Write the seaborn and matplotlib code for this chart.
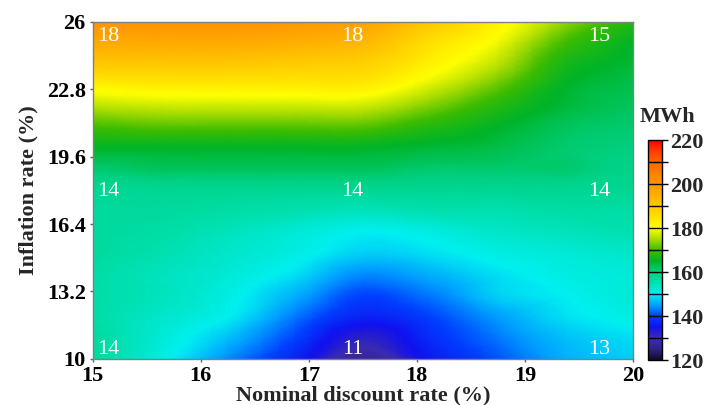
import numpy as np
import matplotlib
matplotlib.use("Agg")
import matplotlib.pyplot as plt
import matplotlib.tri as mtri
from matplotlib.colors import LinearSegmentedColormap, Normalize
import seaborn as sns

# ---- data ----
discount_rate = [15.0, 15.625, 16.25, 16.875, 17.5, 18.125, 18.75, 19.375, 20.0]   # x (%)
inflation_rate = [10, 11, 12, 13, 14, 15, 16, 17, 18, 19, 20, 21, 22, 23, 24, 25, 26]  # y (%)
row_10 = [157, 151, 144, 137, 127, 136, 141, 146, 148]
row_11 = [157, 152, 147, 140, 132, 138, 143, 147, 149]
row_12 = [156, 153, 150, 143, 137, 140, 145, 149, 151]
row_13 = [156, 154, 151, 146, 140, 143, 148, 150, 152]
row_14 = [156, 154, 152, 149, 144, 146, 149, 151, 152]
row_15 = [157, 155, 153, 151, 148, 149, 151, 152, 153]
row_16 = [157, 156, 154, 152, 150, 151, 153, 154, 155]
row_17 = [157, 157, 156, 155, 154, 155, 155, 156, 156]
row_18 = [158, 158, 158, 158, 158, 158, 158, 158, 158]
row_19 = [161, 162, 162, 162, 162, 161, 161, 161, 159]
row_20 = [165, 165, 165, 165, 165, 164, 163, 161, 160]
row_21 = [170, 171, 171, 171, 171, 168, 165, 162, 161]
row_22 = [176, 177, 177, 177, 177, 173, 168, 164, 162]
row_23 = [182, 183, 183, 183, 183, 178, 172, 165, 163]
row_24 = [190, 190, 190, 189, 188, 182, 176, 167, 164]
row_25 = [196, 196, 196, 195, 193, 185, 179, 170, 165]
row_26 = [201, 201, 201, 200, 198, 190, 182, 174, 168]
energy_mwh = [row_10, row_11, row_12, row_13, row_14, row_15, row_16, row_17, row_18,
              row_19, row_20, row_21, row_22, row_23, row_24, row_25, row_26]

label_x = [15, 17.5, 20, 15, 17.5, 20, 15, 17.5, 20]
label_y = [26, 26, 26, 18, 18, 18, 10, 10, 10]
label_txt = ["18", "18", "15", "14", "14", "14", "14", "11", "13"]
xticks = [15, 16, 17, 18, 19, 20]
yticks = [10, 13.2, 16.4, 19.6, 22.8, 26]
ytick_labels = ["10", "13.2", "16.4", "19.6", "22.8", "26"]
cbar_ticks = [120, 140, 160, 180, 200, 220]

sns.set_theme(style="white")
plt.rcParams["font.family"] = ["Liberation Serif", "DejaVu Serif"]

cmap_stops = [
    (120, "#0d0d26"), (125, "#35208a"), (130, "#3b2cb0"), (135, "#1010f0"),
    (140, "#0040ff"), (145, "#00a0ff"), (150, "#00f0f0"), (155, "#00e0b0"),
    (160, "#00d080"), (165, "#00b428"), (170, "#3cbc00"), (175, "#a8dc00"),
    (180, "#ffff00"), (185, "#ffe000"), (190, "#ffc800"), (195, "#ffb000"),
    (200, "#ff9800"), (205, "#ff8000"), (210, "#ff6400"), (215, "#ff3c00"),
    (220, "#ff0000"),
]
cmap = LinearSegmentedColormap.from_list(
    "origin_rainbow", [((v - 120) / 100.0, c) for v, c in cmap_stops], N=512)
norm = Normalize(120, 220)

fig = plt.figure(figsize=(7.08, 4.05), dpi=100)
ax = fig.add_axes([0.131, 0.114, 0.763, 0.832])

# smooth surface through the grid (cubic triangulated interpolation)
X, Y = np.meshgrid(discount_rate, inflation_rate)
Z = np.array(energy_mwh, dtype=float)
xn = (X.ravel() - 15) / 5.0
yn = (Y.ravel() - 10) / 16.0
tri = mtri.Triangulation(xn, yn)
interp = mtri.CubicTriInterpolator(tri, Z.ravel(), kind="geom")
refiner = mtri.UniformTriRefiner(tri)
tri_f, z_f = refiner.refine_field(Z.ravel(), triinterpolator=interp, subdiv=3)
tri_plot = mtri.Triangulation(tri_f.x * 5.0 + 15, tri_f.y * 16.0 + 10, tri_f.triangles)
ax.tripcolor(tri_plot, z_f, cmap=cmap, norm=norm, shading="gouraud", rasterized=True)

ax.set_xlim(15, 20)
ax.set_ylim(10, 26)
ax.set_xticks(xticks)
ax.set_xticklabels([str(t) for t in xticks])
ax.set_yticks(yticks)
ax.set_yticklabels(ytick_labels)
for sp in ax.spines.values():
    sp.set_color("#808080")
    sp.set_linewidth(1.0)
ax.tick_params(axis="both", which="major", direction="out", length=2.5, width=1,
               color="#606060", pad=2.5, labelsize=16, labelcolor="black",
               bottom=True, left=True, top=False, right=False)
for lab in ax.get_xticklabels() + ax.get_yticklabels():
    lab.set_fontweight("bold")
ax.set_xlabel("Nominal discount rate (%)", fontsize=16, fontweight="bold", labelpad=0)
ax.set_ylabel("Inflation rate (%)", fontsize=16, fontweight="bold", labelpad=6)

# white point labels
for x, y, t in zip(label_x, label_y, label_txt):
    if x == 15:
        ha, dx = "left", 4
    elif x == 20:
        ha, dx = "right", -23
    else:
        ha, dx = "right", 1
    if y == 26:
        dy = -19
    elif y == 18:
        dy = -6
    else:
        dy = 5
    ax.annotate(t, (x, y), xytext=(dx, dy), textcoords="offset pixels",
                ha=ha, va="baseline", color="white", fontsize=16,
                annotation_clip=False, clip_on=True)

# colorbar
cax = fig.add_axes([0.9153, 0.111, 0.0198, 0.543])
sm = matplotlib.cm.ScalarMappable(norm=norm, cmap=cmap)
cb = fig.colorbar(sm, cax=cax)
cb.set_ticks(cbar_ticks)
cb.set_ticklabels([str(t) for t in cbar_ticks])
cb.ax.set_yticks(np.arange(120, 221, 10), minor=True)
cb.outline.set_edgecolor("black")
cb.outline.set_linewidth(1.0)
cb.ax.hlines(np.arange(130, 220, 10), 0, 1, colors="black", linewidth=1.0)
cb.ax.tick_params(which="both", direction="out", length=4, width=1, color="black",
                  pad=2, labelsize=16, right=True, left=False)
for lab in cb.ax.get_yticklabels():
    lab.set_fontweight("bold")
fig.text(0.942, 0.711, "MWh", ha="center", va="center", fontsize=16, fontweight="bold")

fig.savefig("out.png", dpi=100)
